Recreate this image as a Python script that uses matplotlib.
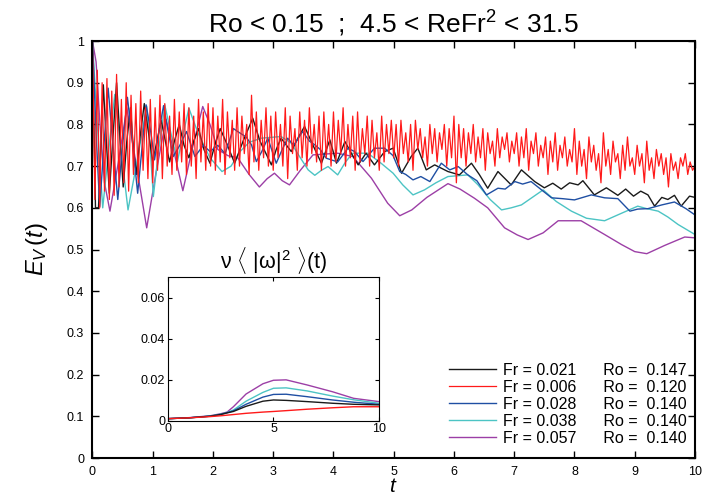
import matplotlib
matplotlib.use("Agg")
import matplotlib.pyplot as plt
import numpy as np

plt.rcParams['font.family'] = ['Liberation Sans', 'DejaVu Sans']
plt.rcParams['mathtext.fontset'] = 'custom'
plt.rcParams['mathtext.rm'] = 'Liberation Sans'
plt.rcParams['mathtext.it'] = 'Liberation Sans:italic'

# legend entries
fr_vals = ['0.021', '0.006', '0.028', '0.038', '0.057']
ro_vals = ['0.147', '0.120', '0.140', '0.140', '0.140']
colors = ['#1a1a1a', '#ff1a1a', '#1f4fa3', '#4cc4c4', '#9c3fa6']

# E_V(t), Fr = 0.021 (black)
t_k = [0, 0.03, 0.05, 0.10, 0.14, 0.18, 0.23, 0.28, 0.34, 0.40, 0.455, 0.51, 0.57, 0.63,
       0.68, 0.73, 0.79, 0.86, 0.93, 1.00, 1.07, 1.14, 1.21, 1.28, 1.36, 1.44, 1.52, 1.60,
       1.68, 1.76, 1.85, 1.95, 2.03, 2.12, 2.24, 2.36, 2.50, 2.66, 2.78, 2.97, 3.05, 3.13,
       3.22, 3.30, 3.42, 3.52, 3.66, 3.80, 3.94, 4.05, 4.19, 4.30, 4.41, 4.54, 4.68, 4.85,
       4.99, 5.13, 5.29, 5.40, 5.54, 5.68, 5.90, 6.09, 6.29, 6.42, 6.56, 6.73, 6.95, 7.12,
       7.34, 7.50, 7.64, 7.78, 7.92, 8.06, 8.14, 8.33, 8.53, 8.72, 8.85, 8.98, 9.10, 9.22,
       9.33, 9.45, 9.55, 9.66, 9.77, 9.91, 10.0]
e_k = [1.0, 0.75, 0.60, 0.60, 0.75, 0.895, 0.76, 0.635, 0.77, 0.90, 0.77, 0.65, 0.76, 0.84,
       0.74, 0.68, 0.77, 0.85, 0.78, 0.71, 0.76, 0.81, 0.76, 0.71, 0.76, 0.80, 0.75, 0.72,
       0.76, 0.79, 0.74, 0.707, 0.75, 0.79, 0.75, 0.707, 0.76, 0.815, 0.76, 0.703, 0.74, 0.767,
       0.75, 0.735, 0.77, 0.795, 0.75, 0.707, 0.763, 0.707, 0.759, 0.73, 0.703, 0.731, 0.703, 0.735,
       0.743, 0.683, 0.723, 0.743, 0.691, 0.703, 0.687, 0.679, 0.707, 0.68, 0.647, 0.687, 0.655, 0.691,
       0.663, 0.648, 0.659, 0.645, 0.66, 0.655, 0.665, 0.631, 0.648, 0.630, 0.645, 0.628, 0.64, 0.631,
       0.604, 0.625, 0.62, 0.63, 0.604, 0.628, 0.625]

# E_V(t), Fr = 0.006 (red), sampled every 0.04
e_r = [1.00, 0.62, 0.93, 0.60, 0.90, 0.64, 0.91, 0.62, 0.88, 0.63, 0.92, 0.65, 0.86, 0.66, 0.90, 0.64, 0.87, 0.68, 0.85, 0.66, 0.88, 0.69, 0.84, 0.67, 0.86,
       0.66, 0.84, 0.69, 0.87, 0.67, 0.85, 0.70, 0.82, 0.68, 0.86, 0.69, 0.83, 0.71, 0.85, 0.68, 0.84, 0.70, 0.82, 0.67, 0.86, 0.71, 0.83, 0.69, 0.85, 0.70,
       0.84, 0.69, 0.82, 0.71, 0.86, 0.68, 0.83, 0.72, 0.81, 0.69, 0.84, 0.70, 0.82, 0.73, 0.80, 0.68, 0.87, 0.71, 0.83, 0.69, 0.81, 0.72, 0.84, 0.70, 0.82,
       0.69, 0.83, 0.72, 0.80, 0.70, 0.84, 0.67, 0.82, 0.73, 0.79, 0.69, 0.83, 0.72, 0.81, 0.70, 0.84, 0.73, 0.80, 0.71, 0.82, 0.69, 0.83, 0.72, 0.80, 0.70,
       0.83, 0.71, 0.81, 0.73, 0.84, 0.70, 0.80, 0.72, 0.82, 0.69, 0.83, 0.71, 0.79, 0.73, 0.82, 0.70, 0.81, 0.72, 0.78, 0.69, 0.82, 0.71, 0.80, 0.73, 0.81,
       0.72, 0.80, 0.70, 0.81, 0.73, 0.78, 0.71, 0.80, 0.69, 0.81, 0.74, 0.79, 0.72, 0.77, 0.70, 0.80, 0.73, 0.79, 0.71, 0.78, 0.74, 0.80, 0.70, 0.79, 0.72,
       0.82, 0.66, 0.80, 0.72, 0.79, 0.70, 0.78, 0.73, 0.80, 0.71, 0.77, 0.72, 0.79, 0.69, 0.78, 0.73, 0.76, 0.70, 0.79, 0.72, 0.77, 0.74, 0.78, 0.71, 0.76,
       0.73, 0.78, 0.70, 0.77, 0.72, 0.79, 0.69, 0.76, 0.73, 0.78, 0.70, 0.75, 0.72, 0.77, 0.68, 0.76, 0.71, 0.78, 0.69, 0.75, 0.72, 0.77, 0.70, 0.74, 0.71,
       0.79, 0.68, 0.76, 0.70, 0.74, 0.67, 0.77, 0.71, 0.75, 0.69, 0.73, 0.66, 0.78, 0.70, 0.74, 0.68, 0.76, 0.71, 0.73, 0.67, 0.75, 0.69, 0.77, 0.70, 0.72,
       0.68, 0.75, 0.70, 0.73, 0.66, 0.76, 0.69, 0.72, 0.67, 0.74, 0.70, 0.73, 0.68, 0.72, 0.65, 0.73, 0.69, 0.71, 0.67, 0.72, 0.70, 0.73, 0.68, 0.71, 0.69,
       0.70]
t_r = np.linspace(0, 10, len(e_r))

# E_V(t), Fr = 0.028 (blue)
t_b = [0, 0.06, 0.12, 0.19, 0.26, 0.34, 0.42, 0.50, 0.58, 0.67, 0.75, 0.82, 0.89, 0.97,
       1.03, 1.10, 1.18, 1.26, 1.34, 1.45, 1.56, 1.70, 1.84, 1.95, 2.08, 2.20, 2.34, 2.41,
       2.55, 2.64, 2.72, 2.81, 2.91, 3.05, 3.15, 3.24, 3.34, 3.49, 3.60, 3.69, 3.78, 3.88,
       4.07, 4.24, 4.35, 4.49, 4.68, 4.85, 4.99, 5.10, 5.20, 5.32, 5.45, 5.60, 5.79, 5.93,
       6.07, 6.23, 6.38, 6.54, 6.73, 6.85, 7.01, 7.14, 7.28, 7.48, 7.62, 7.80, 8.00, 8.28,
       8.50, 8.72, 8.92, 9.05, 9.22, 9.45, 9.66, 9.85, 10.0]
e_b = [1.0, 0.78, 0.603, 0.75, 0.887, 0.75, 0.62, 0.75, 0.865, 0.75, 0.635, 0.74, 0.847, 0.78,
       0.715, 0.78, 0.845, 0.78, 0.723, 0.75, 0.783, 0.723, 0.75, 0.735, 0.75, 0.73, 0.79, 0.783,
       0.77, 0.751, 0.711, 0.735, 0.767, 0.707, 0.74, 0.767, 0.75, 0.783, 0.76, 0.751, 0.74, 0.719,
       0.71, 0.743, 0.735, 0.711, 0.743, 0.743, 0.725, 0.687, 0.68, 0.667, 0.675, 0.663, 0.707, 0.691,
       0.699, 0.679, 0.665, 0.631, 0.647, 0.645, 0.663, 0.657, 0.663, 0.640, 0.624, 0.622, 0.619, 0.631,
       0.624, 0.622, 0.592, 0.597, 0.598, 0.607, 0.614, 0.598, 0.583]

# E_V(t), Fr = 0.038 (cyan)
t_c = [0, 0.08, 0.17, 0.27, 0.37, 0.48, 0.59, 0.75, 0.90, 0.96, 1.01, 1.10, 1.20, 1.30,
       1.41, 1.51, 1.60, 1.75, 1.95, 2.15, 2.30, 2.45, 2.60, 2.80, 3.13, 3.30, 3.45, 3.58,
       3.69, 3.80, 3.91, 4.07, 4.20, 4.32, 4.57, 4.79, 4.99, 5.15, 5.32, 5.51, 5.70, 5.90,
       6.23, 6.40, 6.60, 6.79, 6.95, 7.12, 7.30, 7.48, 7.70, 7.95, 8.20, 8.50, 8.75, 9.05,
       9.20, 9.39, 9.55, 9.72, 10.0]
e_c = [1.0, 0.80, 0.60, 0.74, 0.872, 0.73, 0.595, 0.72, 0.844, 0.74, 0.627, 0.74, 0.847, 0.78,
       0.711, 0.78, 0.839, 0.78, 0.72, 0.687, 0.70, 0.735, 0.757, 0.767, 0.771, 0.755, 0.72, 0.691,
       0.678, 0.69, 0.699, 0.679, 0.71, 0.731, 0.731, 0.707, 0.683, 0.655, 0.631, 0.643, 0.66, 0.675,
       0.679, 0.655, 0.62, 0.595, 0.60, 0.607, 0.625, 0.643, 0.615, 0.592, 0.575, 0.569, 0.585, 0.604,
       0.598, 0.592, 0.578, 0.56, 0.536]

# E_V(t), Fr = 0.057 (purple)
t_p = [0, 0.06, 0.12, 0.20, 0.29, 0.43, 0.57, 0.73, 0.90, 1.05, 1.22, 1.36, 1.50, 1.67,
       1.83, 1.95, 2.08, 2.25, 2.41, 2.60, 2.77, 2.90, 3.02, 3.15, 3.27, 3.45, 3.66, 4.07,
       4.32, 4.63, 4.90, 5.10, 5.30, 5.55, 5.90, 6.10, 6.34, 6.56, 6.84, 7.05, 7.23, 7.48,
       7.73, 8.11, 8.50, 8.78, 9.00, 9.20, 9.50, 9.83, 10.0]
e_p = [1.0, 0.95, 0.81, 0.66, 0.592, 0.71, 0.84, 0.70, 0.552, 0.68, 0.812, 0.73, 0.641, 0.75,
       0.843, 0.80, 0.74, 0.725, 0.72, 0.68, 0.650, 0.67, 0.683, 0.665, 0.655, 0.69, 0.727, 0.731,
       0.723, 0.671, 0.611, 0.581, 0.595, 0.625, 0.658, 0.645, 0.623, 0.600, 0.552, 0.535, 0.524, 0.540,
       0.569, 0.569, 0.536, 0.512, 0.495, 0.490, 0.51, 0.530, 0.528]

# inset: nu <|omega|^2>(t)
t_in = [0, 1, 2, 2.5, 2.8, 3.1, 3.7, 4.5, 5.0, 5.6, 6.6, 7.8, 8.8, 10.0]
d_k = [0.001, 0.0014, 0.0022, 0.0030, 0.0038, 0.0045, 0.0070, 0.0095, 0.0101, 0.0099, 0.0093, 0.0085, 0.0080, 0.0077]
d_r = [0.001, 0.0014, 0.0020, 0.0024, 0.0027, 0.0030, 0.0036, 0.0042, 0.0045, 0.0049, 0.0056, 0.0063, 0.0068, 0.0068]
d_b = [0.001, 0.0014, 0.0022, 0.0031, 0.0039, 0.0048, 0.0080, 0.0115, 0.0128, 0.0129, 0.0117, 0.0101, 0.0090, 0.0080]
d_c = [0.001, 0.0014, 0.0023, 0.0032, 0.0040, 0.0052, 0.0095, 0.0138, 0.0158, 0.0160, 0.0145, 0.0120, 0.0102, 0.0085]
d_p = [0.001, 0.0015, 0.0024, 0.0034, 0.0042, 0.0068, 0.0130, 0.0180, 0.0197, 0.0199, 0.0174, 0.0141, 0.0109, 0.0093]

fig = plt.figure(figsize=(7.13, 4.98), dpi=100)
ax = fig.add_axes([0.1297, 0.0803, 0.845, 0.8373])

series = [(t_k, e_k), (t_r, e_r), (t_b, e_b), (t_c, e_c), (t_p, e_p)]
lines = [None] * 5
for i in [4, 3, 0, 2, 1]:
    t, e = series[i]
    lw = 1.0 if i != 1 else 0.9
    ln, = ax.plot(t, e, color=colors[i], lw=lw,
                  label='Fr = %s      Ro =  %s' % (fr_vals[i], ro_vals[i]))
    lines[i] = ln

ax.set_xlim(0, 10)
ax.set_ylim(0, 1)
ax.set_xticks(range(11))
ax.set_yticks(np.arange(0, 1.01, 0.1))
ax.set_yticklabels(['0', '0.1', '0.2', '0.3', '0.4', '0.5', '0.6', '0.7', '0.8', '0.9', '1'])
ax.tick_params(direction='in', top=True, right=True, labelsize=9, length=5, width=1, pad=6)
for s in ax.spines.values():
    s.set_linewidth(1.5)
ax.set_title(r'Ro < 0.15  ;  4.5 < ReFr$^2$ < 31.5', fontsize=19, pad=6)
ax.set_xlabel(r'$t$', fontsize=15)
ax.xaxis.set_label_coords(0.5, -0.046)
ax.set_ylabel(r'$E_V\,(t)$', fontsize=17, labelpad=12)

ax.legend(handles=lines, loc='lower right', bbox_to_anchor=(1.01, -0.005), frameon=False,
          fontsize=11.5, handlelength=2.9, handletextpad=0.45, labelspacing=0.12)

ins = fig.add_axes([0.2356, 0.1552, 0.2959, 0.2886])
for d, c in zip([d_p, d_c, d_b, d_k, d_r], [colors[4], colors[3], colors[2], colors[0], colors[1]]):
    ins.plot(t_in, d, color=c, lw=1.0)
ins.set_xlim(0, 10)
ins.set_ylim(0, 0.07)
ins.set_xticks([0, 5, 10])
ins.set_yticks([0, 0.02, 0.04, 0.06])
ins.set_yticklabels(['0', '0.02', '0.04', '0.06'])
ins.tick_params(direction='in', top=True, right=True, labelsize=9, length=3, pad=2)
ins.set_title(r'$\mathrm{\nu}$ $\langle$ $|\mathrm{\omega}|^2$ $\rangle$(t)', fontsize=15.5, pad=6)

fig.savefig('out.png', dpi=100)
